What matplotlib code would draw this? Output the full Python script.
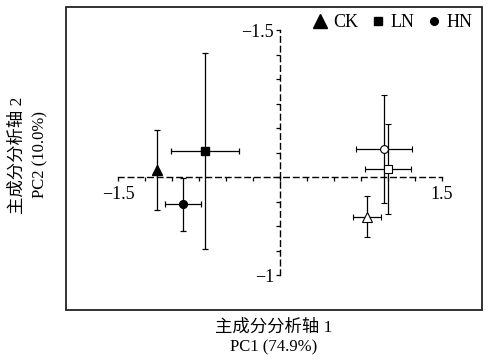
import numpy as np
import matplotlib
matplotlib.use("Agg")
import matplotlib.pyplot as plt
from matplotlib.lines import Line2D
from matplotlib.patches import Rectangle
from matplotlib.ticker import FixedLocator, FixedFormatter

plt.rcParams['font.family'] = ['Liberation Serif', 'Noto Sans CJK SC', 'DejaVu Sans']
plt.rcParams['axes.unicode_minus'] = True

# PCA scores (mean +/- error), filled = first sampling, open = second sampling
groups = ['CK', 'LN', 'HN']
markers = ['^', 's', 'o']
marker_sizes = [7, 5.4, 5.6]

pc1_filled = [-1.145, -0.696, -0.903]
pc2_filled = [0.07, 0.267, -0.276]
pc1_err_filled = [0.0, 0.317, 0.169]
pc2_err_filled = [0.41, 1.0, 0.27]

pc1_open = [0.808, 1.006, 0.966]
pc2_open = [-0.403, 0.085, 0.286]
pc1_err_open = [0.127, 0.214, 0.263]
pc2_err_open = [0.21, 0.46, 0.556]

# axis ticks and their (printed) labels
xtick_pos = [-1.5, 1.5]
xtick_labels = ['\u22121.5', '1.5']
ytick_pos = [1.5, -1]
ytick_labels = ['\u22121.5', '\u22121']
minor_step = 0.25

xlabel_lines = ['主成分分析轴 1', 'PC1 (74.9%)']
ylabel_lines = ['主成分分析轴 2', 'PC2 (10.0%)']

fig = plt.figure(figsize=(4.88, 3.61), dpi=100)
ax = fig.add_axes([66 / 488, 1 - 310 / 361, 416 / 488, 303 / 361])
ax.set_xlim(-1.987, 1.876)
ax.set_ylim(-1.357, 1.735)

# frame around plotting area
ax.add_patch(Rectangle((0, 0), 1, 1, transform=ax.transAxes, fill=False,
                       edgecolor='#222222', linewidth=1.3, clip_on=False, zorder=5))

# dashed axes crossing at the origin
for side in ['top', 'right']:
    ax.spines[side].set_visible(False)
for side in ['left', 'bottom']:
    sp = ax.spines[side]
    sp.set_position('zero')
    sp.set_linestyle((0, (4, 3)))
    sp.set_linewidth(1.0)
    sp.set_color('black')
ax.spines['bottom'].set_bounds(-1.5, 1.5)
ax.spines['left'].set_bounds(-1, 1.5)

ax.xaxis.set_major_locator(FixedLocator(xtick_pos))
ax.xaxis.set_major_formatter(FixedFormatter(xtick_labels))
ax.yaxis.set_major_locator(FixedLocator(ytick_pos))
ax.yaxis.set_major_formatter(FixedFormatter(ytick_labels))
ax.xaxis.set_minor_locator(FixedLocator(np.arange(-1.5, 1.5 + 0.01, minor_step)))
ax.yaxis.set_minor_locator(FixedLocator(np.arange(-1.0, 1.5 + 0.01, minor_step)))
ax.tick_params(which='both', direction='out', length=3.2, width=0.9, color='black')
ax.tick_params(axis='x', which='major', labelsize=13, pad=3)
ax.tick_params(axis='y', which='major', labelsize=13, pad=1)

# data points with error bars
for i in range(3):
    ax.errorbar(pc1_filled[i], pc2_filled[i],
                xerr=pc1_err_filled[i] if pc1_err_filled[i] > 0 else None,
                yerr=pc2_err_filled[i], fmt=markers[i], ms=marker_sizes[i],
                mfc='black', mec='black', ecolor='black', elinewidth=0.9,
                capsize=2.2, capthick=0.9, zorder=6)
    ax.errorbar(pc1_open[i], pc2_open[i], xerr=pc1_err_open[i], yerr=pc2_err_open[i],
                fmt=markers[i], ms=marker_sizes[i], mfc='white', mec='black', mew=0.8,
                ecolor='black', elinewidth=0.9, capsize=2.2, capthick=0.9, zorder=6)

handles = [Line2D([], [], linestyle='none', marker=m, color='black', ms=s)
           for m, s in zip(markers, [9.5, 5.5, 5.5])]
ax.legend(handles, groups, loc='upper right', ncol=3, frameon=False, fontsize=13,
          handlelength=0.6, handletextpad=0.4, columnspacing=0.8,
          borderaxespad=0.0, bbox_to_anchor=(0.995, 1.0))

fig.text(274 / 488, 1 - 328 / 361, xlabel_lines[0], ha='center', va='center', fontsize=12.5)
fig.text(274 / 488, 1 - 347 / 361, xlabel_lines[1], ha='center', va='center', fontsize=12)
fig.text(18 / 488, 1 - 155 / 361, ylabel_lines[0], ha='center', va='center', fontsize=12.5, rotation=90)
fig.text(40 / 488, 1 - 155 / 361, ylabel_lines[1], ha='center', va='center', fontsize=12, rotation=90)

fig.savefig('out.png', dpi=100)
